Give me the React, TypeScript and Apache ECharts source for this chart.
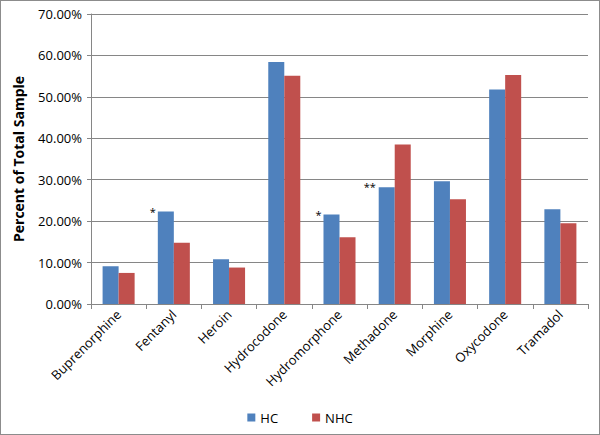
import React, { useEffect, useRef } from "react";
import * as echarts from "echarts";

const categories = ["Buprenorphine", "Fentanyl", "Heroin", "Hydrocodone", "Hydromorphone", "Methadone", "Morphine", "Oxycodone", "Tramadol"];
const hcValues = [9.1, 22.3, 10.8, 58.4, 21.6, 28.2, 29.6, 51.8, 22.9];
const nhcValues = [7.5, 14.8, 8.8, 55.1, 16.1, 38.5, 25.3, 55.3, 19.5];
const hcMarks = ["", "*", "", "", "*", "**", "", "", ""];
const seriesNames = ["HC", "NHC"];

const FONT = "'Open Sans', 'Noto Sans', sans-serif";

export default function App() {
  const ref = useRef<HTMLDivElement>(null);
  useEffect(() => {
    const chart = echarts.init(ref.current!, null, { renderer: "svg" });
    chart.setOption({
      animation: false,
      backgroundColor: "#ffffff",
      grid: { left: 90, right: 11, top: 13, bottom: 130, containLabel: false },
      legend: {
        bottom: 5,
        left: "center",
        itemWidth: 8,
        itemHeight: 8,
        itemGap: 34,
        icon: "rect",
        textStyle: { fontFamily: FONT, fontSize: 13, color: "#000" },
        data: seriesNames,
      },
      xAxis: {
        type: "category",
        data: categories,
        axisLine: { lineStyle: { color: "#868686" } },
        axisTick: { show: true, alignWithLabel: false, length: 5, lineStyle: { color: "#868686" } },
        axisLabel: { rotate: 45, interval: 0, fontFamily: FONT, fontSize: 13, color: "#000", margin: 8 },
      },
      yAxis: {
        type: "value",
        min: 0,
        max: 70,
        interval: 10,
        name: "Percent of Total Sample",
        nameLocation: "middle",
        nameGap: 66,
        nameTextStyle: { fontFamily: FONT, fontSize: 14, fontWeight: "bold", color: "#000" },
        axisLine: { show: true, lineStyle: { color: "#868686" } },
        axisTick: { show: true, length: 4, lineStyle: { color: "#868686" } },
        splitLine: { lineStyle: { color: "#868686" } },
        axisLabel: {
          fontFamily: FONT,
          fontSize: 13,
          color: "#000",
          margin: 9,
          formatter: (v: number) => v.toFixed(2) + "%",
        },
      },
      series: [
        {
          name: seriesNames[0],
          type: "bar",
          barGap: "0%",
          barCategoryGap: "42%",
          itemStyle: { color: "#4F81BD" },
          data: hcValues.map((v, i) =>
            hcMarks[i]
              ? {
                  value: v,
                  label: {
                    show: true,
                    formatter: hcMarks[i],
                    position: [hcMarks[i].length > 1 ? -15 : -8, -6],
                    fontFamily: FONT,
                    fontSize: 11,
                    color: "#000",
                  },
                }
              : v
          ),
        },
        {
          name: seriesNames[1],
          type: "bar",
          barGap: "0%",
          barCategoryGap: "42%",
          itemStyle: { color: "#C0504D" },
          data: nhcValues,
        },
      ],
    });
    return () => chart.dispose();
  }, []);
  return (
    <div
      ref={ref}
      style={{ width: 598, height: 433, border: "1px solid #8c8c8c", position: "absolute", left: 0, top: 0 }}
    />
  );
}
